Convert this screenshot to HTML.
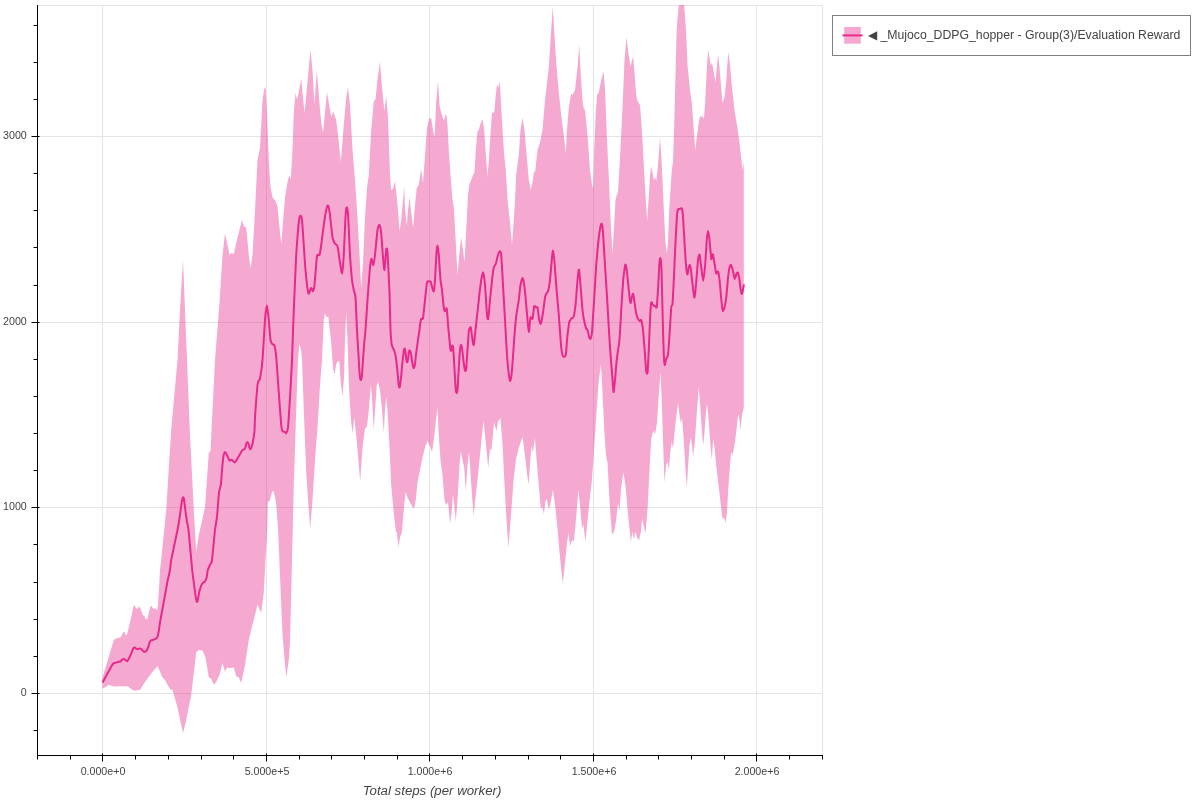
<!DOCTYPE html>
<html><head><meta charset="utf-8"><title>plot</title>
<style>
html,body{margin:0;padding:0;background:#fff;}
body{width:1200px;height:800px;position:relative;overflow:hidden;font-family:"Liberation Sans",sans-serif;color:#444;}
.xt,.yt,.xl,.lg{will-change:transform;}
.xt{position:absolute;width:100px;text-align:center;font-size:10.667px;line-height:13px;}
.yt{position:absolute;left:0;width:26.8px;text-align:right;font-size:10.667px;line-height:13px;}
.xl{position:absolute;left:282.3px;width:300px;text-align:center;top:783px;font-size:13.25px;line-height:15px;font-style:italic;}
.lg{position:absolute;left:868.3px;top:27px;font-size:12.27px;line-height:16px;white-space:nowrap;}
</style></head><body>
<svg width="1200" height="800" viewBox="0 0 1200 800" style="position:absolute;left:0;top:0">
<rect x="0" y="0" width="1200" height="800" fill="#fff"/>
<path d="M102.5 5.5V755.5M266.5 5.5V755.5M429.5 5.5V755.5M593.5 5.5V755.5M756.5 5.5V755.5M37.5 693.5H822.5M37.5 507.5H822.5M37.5 322.5H822.5M37.5 136.5H822.5" stroke="#e5e5e5" stroke-width="1" fill="none"/>
<path d="M37.5 5.5H822.5V755.5" stroke="#e5e5e5" stroke-width="1" fill="none"/>
<clipPath id="c"><rect x="37.0" y="5.0" width="786.0" height="751.0"/></clipPath>
<polygon clip-path="url(#c)" points="102.5,677.5 113.8,640.0 115.6,638.8 117.5,638.0 118.8,637.4 120.0,638.1 121.9,635.0 123.1,632.5 124.4,631.7 125.6,634.4 126.5,636.0 128.1,630.0 131.2,617.5 133.1,607.5 134.4,604.9 135.6,607.5 136.9,609.0 138.1,607.5 139.4,606.8 140.6,608.8 141.9,612.5 143.1,615.6 144.4,615.6 145.6,618.8 147.2,619.6 148.1,616.2 149.4,610.0 150.6,606.2 151.5,605.9 152.5,607.5 153.8,609.2 155.0,607.9 156.2,609.4 157.2,609.9 157.9,605.0 159.0,588.8 160.0,570.0 161.2,560.0 166.2,510.0 171.2,430.0 177.5,360.0 180.0,310.0 183.0,260.0 185.0,310.0 187.0,360.0 190.0,435.0 193.8,510.0 196.2,551.7 198.8,535.0 205.0,507.5 208.8,452.5 210.5,451.2 212.5,410.0 215.0,360.0 219.5,302.5 222.5,255.0 225.0,233.4 227.5,245.0 229.5,254.8 231.2,252.9 233.8,253.9 237.5,237.5 242.0,220.1 243.8,226.2 246.2,227.5 248.8,255.0 250.5,268.8 252.5,255.0 255.0,210.0 257.5,160.0 260.0,147.5 262.5,100.0 264.2,88.8 265.5,87.1 267.0,112.5 268.8,160.0 270.5,187.0 272.5,197.5 275.0,200.0 277.5,206.2 279.5,227.5 281.2,243.9 283.0,222.5 285.0,197.0 287.5,182.0 289.2,175.3 290.8,179.2 292.5,150.0 293.8,112.5 295.5,92.7 297.0,99.4 298.8,92.5 301.2,78.2 302.5,92.5 304.5,113.0 307.0,87.5 310.5,49.9 312.5,70.0 314.5,104.7 316.8,70.2 318.8,95.0 321.2,122.5 323.0,133.1 325.0,112.5 327.0,92.5 328.8,102.5 331.2,116.8 333.2,111.6 336.2,120.0 338.0,135.0 340.8,161.9 343.8,125.0 346.2,97.5 348.0,87.0 350.0,105.0 352.5,150.0 355.0,180.0 357.5,217.5 359.5,255.0 361.2,287.9 363.0,262.5 365.0,217.5 367.0,187.5 368.8,175.0 371.2,130.0 373.8,101.2 375.5,99.5 378.0,75.0 380.0,61.7 382.0,87.5 384.5,111.5 386.2,95.8 388.0,117.5 390.0,175.0 391.2,190.3 393.0,188.8 395.0,181.0 396.8,197.5 398.0,210.0 399.5,231.6 401.2,220.0 403.0,200.0 404.2,186.8 405.0,207.5 406.8,225.7 408.0,210.0 409.5,197.2 411.2,212.5 413.2,228.0 415.0,205.0 416.8,187.5 418.8,185.0 421.2,168.8 423.0,182.9 425.0,155.0 427.0,127.5 429.2,118.8 431.2,117.9 433.0,130.0 434.5,137.7 436.2,102.0 438.0,81.1 439.5,105.0 441.2,112.5 443.8,120.6 445.0,116.2 446.2,114.0 447.5,125.0 448.8,150.0 450.5,175.0 452.5,200.0 453.8,207.0 455.8,242.5 457.5,275.0 459.2,255.0 461.2,237.4 463.0,250.0 464.5,262.5 466.2,230.0 468.0,195.0 469.5,183.8 471.2,180.0 473.0,175.0 474.5,172.5 475.8,150.0 477.5,131.2 478.8,130.0 480.5,123.8 482.5,118.9 484.2,130.0 485.5,150.0 487.5,177.3 489.2,155.0 490.8,130.0 492.0,112.5 494.2,112.5 495.8,95.0 497.0,84.3 498.2,88.0 499.8,81.3 500.8,100.0 502.5,130.0 504.2,155.0 505.8,170.0 507.5,200.0 510.0,222.5 512.0,244.7 513.8,220.0 515.0,200.0 516.2,175.0 518.8,155.0 520.5,130.0 522.5,117.7 524.5,130.0 526.2,150.0 528.8,180.0 530.8,190.1 532.5,182.5 534.2,170.6 535.0,173.2 537.5,150.0 540.0,142.5 542.5,130.0 545.0,100.0 548.8,67.5 551.2,30.0 552.8,5.9 554.2,30.0 556.2,62.5 558.8,92.5 561.2,115.0 563.8,135.0 565.8,153.4 567.0,130.0 568.8,107.5 571.2,93.4 572.5,95.3 575.0,90.0 577.5,67.5 579.2,44.2 580.8,75.0 582.5,100.0 583.8,108.8 585.0,110.0 587.5,135.0 590.0,170.0 592.5,188.5 593.2,185.0 594.2,150.0 595.8,112.5 597.0,95.0 598.8,92.5 601.2,80.0 603.5,71.0 605.0,88.0 606.8,135.0 608.8,177.0 610.5,217.5 612.5,254.2 613.8,230.0 615.5,200.0 617.0,194.0 618.0,192.5 620.0,158.0 622.5,108.0 624.5,60.0 626.5,37.0 628.0,50.0 630.5,67.2 632.0,60.0 633.2,56.7 634.5,72.5 636.2,95.0 637.5,101.2 640.0,105.0 641.2,120.0 643.0,150.0 645.0,187.5 646.2,205.0 647.2,221.7 648.2,205.0 649.5,185.0 650.0,175.0 651.2,166.5 652.5,172.5 653.8,180.0 655.0,177.1 656.2,181.3 658.0,165.0 660.0,137.6 661.2,155.0 662.5,180.0 663.8,210.0 665.5,242.5 666.8,254.1 668.0,242.5 669.2,210.0 670.5,190.0 671.8,170.0 673.0,162.5 674.2,125.0 675.8,62.5 676.6,30.0 677.8,15.0 678.9,5.0 681.5,-4.6 684.1,5.0 684.9,15.0 686.0,30.0 687.5,65.0 690.0,90.0 692.0,105.0 693.8,130.0 695.2,150.6 697.0,135.0 698.8,122.5 700.0,115.3 701.2,117.8 702.5,115.4 703.8,119.6 705.0,105.0 707.0,65.0 708.2,49.8 709.5,57.5 710.8,65.5 712.0,62.5 713.8,72.5 715.5,82.6 717.0,65.0 718.2,54.6 719.5,67.5 721.2,87.5 722.5,102.8 724.5,97.5 726.2,82.5 727.5,62.5 728.5,52.1 730.0,65.0 732.0,87.5 734.5,110.0 737.0,125.0 739.5,142.5 741.2,157.5 742.5,170.2 743.8,161.2 743.8,407.5 742.0,415.0 740.5,430.6 739.5,420.0 738.2,413.9 736.2,432.5 734.5,445.0 732.5,455.6 731.2,451.8 730.0,465.0 728.2,490.0 727.0,512.5 725.5,522.7 723.8,517.2 722.5,519.1 720.8,505.0 718.8,487.5 716.2,465.0 714.5,447.5 713.2,438.4 711.8,459.6 710.0,440.0 708.2,415.0 707.0,403.4 705.8,415.0 704.5,432.5 703.2,445.6 702.0,432.5 700.5,410.0 698.8,386.4 697.0,410.0 695.0,440.0 693.2,456.6 692.0,445.0 690.8,437.7 689.5,445.0 688.2,465.0 686.8,487.5 685.5,470.0 683.8,440.0 682.0,417.7 680.8,423.3 679.5,415.0 678.0,403.2 676.8,412.5 675.0,427.5 673.0,448.7 671.8,441.5 670.5,450.0 668.8,470.1 667.5,461.9 666.2,465.0 664.5,482.6 663.0,440.0 661.8,402.5 660.5,372.0 658.8,395.0 657.0,422.5 655.0,434.2 653.2,430.8 651.2,438.8 649.5,470.0 647.5,510.0 645.5,533.6 643.8,526.2 642.0,518.9 641.1,531.0 639.0,540.4 636.9,537.0 635.4,531.8 633.9,539.3 632.4,531.6 630.9,542.3 629.4,528.0 627.6,510.0 625.5,486.0 623.4,472.2 621.0,489.0 619.5,511.3 618.0,502.9 615.9,522.0 614.1,531.6 612.0,534.4 610.5,516.0 609.0,492.0 607.5,462.0 606.0,456.0 604.5,435.0 602.4,390.0 600.9,364.0 598.5,384.0 596.4,414.0 594.0,450.0 591.9,480.0 589.5,501.0 587.4,522.0 585.3,542.3 583.5,524.3 582.0,528.7 580.5,510.0 578.4,490.1 576.0,519.0 573.9,541.8 572.1,539.8 570.0,546.2 568.5,532.7 567.0,543.0 564.9,564.0 562.8,583.6 561.6,573.0 559.5,552.0 557.4,528.0 555.0,504.0 552.9,489.4 550.5,504.0 548.4,509.1 546.9,499.1 545.4,501.0 543.9,514.1 542.4,506.7 540.9,508.9 539.1,489.0 537.0,465.0 534.9,438.0 532.8,452.4 531.6,445.8 530.4,459.0 528.6,484.7 527.1,474.0 525.0,456.0 522.6,436.7 519.0,447.0 516.0,459.0 513.6,480.0 510.9,516.0 508.5,547.7 507.0,528.0 504.6,486.0 502.5,444.0 500.4,418.0 498.0,421.5 496.5,431.3 494.1,422.1 491.4,450.3 490.0,448.7 488.2,468.1 487.0,455.0 485.0,435.0 483.5,420.8 482.0,435.0 480.0,455.0 477.5,480.0 475.0,502.5 473.5,515.6 472.0,495.0 470.5,472.5 469.0,451.9 467.5,465.0 465.8,491.5 464.2,467.5 462.5,460.0 460.8,451.3 459.5,465.0 457.5,500.0 455.8,521.6 454.5,507.5 453.0,494.5 451.8,510.0 450.2,523.6 448.0,502.0 446.2,505.4 444.5,500.0 442.5,475.0 440.5,460.0 438.8,435.0 437.5,407.3 435.8,422.5 433.8,440.0 432.0,452.0 430.0,446.2 428.8,443.8 427.5,440.8 425.0,447.5 422.5,457.5 420.0,470.0 417.5,482.5 415.8,500.0 414.2,508.2 412.5,507.0 410.0,502.5 407.5,497.5 405.5,491.7 403.8,510.0 401.8,532.5 400.0,537.5 398.5,547.0 396.8,532.5 395.8,531.2 394.5,520.0 393.0,505.0 391.2,485.0 389.5,447.5 387.5,410.0 386.2,396.9 385.0,410.0 383.8,432.6 382.0,410.0 380.0,390.0 378.0,382.0 376.8,385.0 375.0,410.0 373.8,430.0 372.0,397.5 370.8,385.6 368.8,410.0 367.0,426.2 365.0,428.8 362.5,447.5 360.2,481.8 358.8,465.0 356.2,435.0 354.2,417.2 352.5,433.5 351.2,422.5 349.5,397.5 348.8,380.0 347.5,340.0 346.2,312.0 345.0,340.0 344.0,377.5 342.5,396.2 340.5,380.0 339.5,362.0 338.0,360.8 336.2,364.0 334.5,374.4 333.0,368.0 331.2,342.5 328.2,315.9 326.8,317.7 325.0,313.2 323.8,320.0 322.0,360.0 320.0,385.0 317.5,427.5 315.0,460.0 312.5,500.0 310.2,528.4 308.8,510.0 306.2,472.5 303.8,410.0 302.0,360.0 301.2,350.0 299.2,344.2 298.0,360.0 296.2,410.0 293.8,485.0 292.0,560.0 290.0,642.5 288.8,660.0 286.2,677.8 282.5,635.0 278.1,530.0 276.5,507.5 275.2,497.5 274.0,493.1 272.9,490.6 271.9,492.5 270.6,497.5 269.4,501.2 267.8,501.9 267.2,530.0 265.5,560.0 263.8,592.5 261.2,613.1 257.5,604.5 255.0,615.0 251.2,630.0 248.8,640.0 245.0,665.0 241.2,683.0 238.8,677.5 236.2,676.2 233.8,667.5 230.0,668.0 227.0,667.4 225.0,671.7 222.5,663.1 219.5,675.0 215.8,682.5 213.8,684.8 211.2,678.8 208.8,677.5 205.5,657.5 202.5,650.5 198.8,650.0 196.2,652.5 191.2,695.0 186.2,720.0 183.0,733.3 177.5,707.5 172.5,690.0 170.0,689.2 165.0,680.0 162.5,677.5 157.5,666.0 150.0,675.0 143.8,683.8 140.0,690.0 133.8,690.8 127.5,686.2 113.8,686.5 108.8,684.9 102.5,688.8" fill="#e7298a" fill-opacity="0.4"/>
<path clip-path="url(#c)" d="M102.5 682.5C103.2 681.2 108.5 671.7 109.4 670.0C110.3 668.3 111.5 666.3 111.9 665.6C112.3 664.9 113.4 663.4 113.8 663.1C114.1 662.8 115.2 662.8 115.6 662.8C116.0 662.7 117.2 662.4 117.5 662.2C117.8 662.1 118.5 661.5 118.8 661.5C119.0 661.5 119.7 662.0 120.0 661.9C120.3 661.8 121.6 660.3 121.9 660.0C122.2 659.7 123.2 659.0 123.5 659.0C123.8 659.0 124.7 659.4 125.0 659.6C125.3 659.8 126.6 661.2 126.9 661.2C127.2 661.3 127.8 660.5 128.1 660.0C128.4 659.5 129.6 657.1 130.0 656.2C130.4 655.4 131.6 652.7 131.9 651.9C132.2 651.1 133.2 648.5 133.5 648.1C133.8 647.7 134.5 647.4 134.8 647.5C135.0 647.6 135.9 648.6 136.2 648.8C136.6 648.9 137.7 649.0 138.1 649.0C138.5 649.0 139.7 648.4 140.0 648.4C140.3 648.4 140.9 648.5 141.2 648.8C141.6 649.0 142.8 650.9 143.1 651.2C143.4 651.6 144.4 652.0 144.8 651.9C145.1 651.8 146.2 651.0 146.5 650.6C146.8 650.2 147.8 648.2 148.1 647.5C148.4 646.8 149.2 643.8 149.4 643.1C149.7 642.4 150.3 640.9 150.6 640.6C150.9 640.3 152.1 640.1 152.5 640.0C152.9 639.9 154.0 639.5 154.4 639.4C154.8 639.2 155.9 638.8 156.2 638.5C156.6 638.2 157.3 637.5 157.5 636.9C157.7 636.3 158.2 633.9 158.5 632.5C158.8 631.1 159.6 624.9 160.0 622.5C160.4 620.1 162.0 611.5 162.5 608.8C163.0 606.0 164.5 597.8 165.0 595.0C165.5 592.2 167.0 583.8 167.5 581.2C168.0 578.8 169.6 572.1 170.0 570.0C170.4 567.9 170.5 564.0 171.2 560.0C172.0 556.0 176.6 534.5 177.5 530.0C178.4 525.5 179.6 517.9 180.0 515.0C180.4 512.1 181.6 503.0 181.9 501.2C182.2 499.5 182.7 497.8 182.9 497.5C183.1 497.2 183.5 497.1 183.8 498.1C184.0 499.1 184.7 505.2 185.0 507.5C185.3 509.8 186.6 519.0 186.9 521.2C187.2 523.5 188.0 525.1 188.5 530.0C189.0 534.9 191.7 564.8 192.2 570.0C192.8 575.2 193.4 579.9 193.8 582.5C194.1 585.1 195.3 594.3 195.6 596.2C195.9 598.2 196.7 601.5 196.9 601.9C197.1 602.3 197.5 601.1 197.8 600.0C198.0 598.9 199.1 592.7 199.4 591.2C199.8 589.8 200.9 586.5 201.2 585.6C201.6 584.8 202.7 583.2 203.1 582.8C203.5 582.3 204.7 581.9 205.0 581.5C205.3 581.1 206.0 579.5 206.2 578.8C206.5 578.0 207.1 574.6 207.2 573.8C207.4 572.9 207.5 570.9 207.8 570.0C208.0 569.1 209.6 566.0 210.0 565.0C210.4 564.0 211.5 563.5 212.0 560.0C212.5 556.5 214.5 534.2 215.0 530.0C215.5 525.8 216.5 521.0 216.9 517.5C217.3 514.0 218.5 497.9 218.8 495.0C219.0 492.1 219.5 489.9 219.8 488.8C220.0 487.6 220.8 485.5 221.0 483.8C221.2 482.0 221.7 473.8 221.9 471.2C222.1 468.8 222.9 460.5 223.1 458.8C223.3 457.0 223.8 454.4 224.0 453.8C224.2 453.1 224.8 452.3 225.0 452.2C225.2 452.2 225.8 452.7 226.0 453.1C226.2 453.5 227.2 455.5 227.5 456.2C227.8 457.0 229.1 460.0 229.4 460.4C229.7 460.8 230.3 460.1 230.6 460.0C230.8 459.9 231.7 459.6 231.9 459.8C232.2 459.9 232.8 461.0 233.1 461.2C233.4 461.5 234.4 462.6 234.8 462.5C235.1 462.4 235.8 461.2 236.2 460.6C236.7 460.0 238.2 457.1 238.8 456.2C239.2 455.4 240.8 452.6 241.2 451.9C241.7 451.2 242.8 449.9 243.1 449.6C243.4 449.4 244.2 449.6 244.4 449.4C244.6 449.2 245.2 448.1 245.4 447.5C245.6 446.9 246.0 444.3 246.2 443.8C246.5 443.2 247.3 441.9 247.5 441.9C247.7 441.9 248.3 443.2 248.5 443.8C248.7 444.3 249.2 446.9 249.4 447.5C249.6 448.1 250.1 449.3 250.2 449.4C250.4 449.5 251.0 448.7 251.2 448.1C251.5 447.5 252.2 444.9 252.5 443.8C252.8 442.6 253.5 437.6 253.8 436.2C254.0 434.9 254.5 431.9 254.6 430.0C254.7 428.1 254.7 422.0 255.0 417.5C255.3 413.0 257.1 388.7 257.5 385.0C257.9 381.3 258.5 381.1 258.8 380.5C259.0 379.9 259.6 380.8 260.0 378.8C260.4 376.7 262.0 365.9 262.5 360.0C263.0 354.1 264.6 325.4 265.0 320.0C265.4 314.6 266.6 305.5 267.0 305.5C267.4 305.5 268.4 316.6 268.8 320.0C269.1 323.4 270.1 337.6 270.5 340.0C270.9 342.4 272.1 344.0 272.5 344.5C272.9 345.0 273.9 343.8 274.2 345.0C274.6 346.2 275.8 352.2 276.2 357.0C276.7 361.8 278.2 385.7 278.8 392.5C279.2 399.3 280.9 421.1 281.2 425.0C281.6 428.9 282.2 430.6 282.5 431.2C282.8 431.9 284.1 431.6 284.5 431.8C284.9 431.9 285.9 433.7 286.2 433.2C286.6 432.8 287.6 431.1 288.0 427.5C288.4 423.9 289.6 404.2 290.0 397.5C290.4 390.8 291.6 368.8 292.0 360.0C292.4 351.2 293.3 320.5 293.8 310.0C294.2 299.5 295.8 263.8 296.2 255.0C296.8 246.2 298.3 226.4 298.8 222.5C299.2 218.6 300.2 215.9 300.5 215.7C300.8 215.4 301.7 217.1 302.0 220.0C302.3 222.9 303.4 240.0 303.8 245.0C304.1 250.0 305.1 265.6 305.5 270.0C305.9 274.4 307.2 286.4 307.5 288.8C307.8 291.1 308.4 293.8 308.8 293.8C309.1 293.7 310.8 288.2 311.2 288.0C311.7 287.8 312.7 291.6 313.0 291.2C313.3 290.9 314.1 288.5 314.5 285.0C314.9 281.5 316.5 259.2 317.0 256.2C317.5 253.2 319.1 256.1 319.5 255.0C319.9 253.9 320.8 248.0 321.2 245.0C321.7 242.0 323.2 228.8 323.8 225.0C324.3 221.2 326.3 209.4 326.8 207.5C327.2 205.6 327.9 205.0 328.2 205.8C328.6 206.5 329.6 211.8 330.0 215.0C330.4 218.2 332.0 234.6 332.5 237.5C333.0 240.4 334.5 242.9 335.0 243.8C335.5 244.6 337.0 244.4 337.5 246.2C338.0 248.1 339.6 259.8 340.0 262.5C340.4 265.2 341.6 274.0 342.0 273.2C342.4 272.5 343.4 261.1 343.8 255.0C344.1 248.9 345.4 217.2 345.8 212.5C346.1 207.8 346.8 207.0 347.0 207.5C347.2 208.0 347.9 212.8 348.2 217.5C348.6 222.2 349.6 248.8 350.0 255.0C350.4 261.2 351.6 276.5 352.0 280.0C352.4 283.5 353.4 288.2 353.8 290.0C354.1 291.8 355.2 293.5 355.5 297.5C355.8 301.5 356.7 324.2 357.0 330.0C357.3 335.8 358.2 350.7 358.5 355.0C358.8 359.3 359.3 370.6 359.5 373.0C359.7 375.4 360.2 378.3 360.3 379.0C360.4 379.7 360.9 380.2 361.0 380.0C361.1 379.8 361.6 379.0 361.8 377.0C362.0 375.0 362.7 363.7 363.0 360.0C363.3 356.3 364.2 343.0 364.5 340.0C364.8 337.0 365.2 334.0 365.5 330.0C365.8 326.0 367.1 306.2 367.5 300.0C367.9 293.8 369.6 271.6 370.0 267.5C370.4 263.4 371.2 259.0 371.5 258.8C371.8 258.5 372.9 265.4 373.2 265.0C373.6 264.6 374.6 258.5 375.0 255.0C375.4 251.5 377.1 233.0 377.5 230.0C377.9 227.0 379.1 224.6 379.5 225.0C379.9 225.4 380.9 230.5 381.2 233.8C381.6 237.0 382.7 253.9 383.0 257.5C383.3 261.1 384.2 270.8 384.5 270.0C384.8 269.2 385.9 251.3 386.2 249.6C386.6 247.8 387.2 248.2 387.5 252.5C387.8 256.8 389.2 284.8 389.5 292.5C389.8 300.2 390.3 325.2 390.5 330.0C390.7 334.8 391.1 338.4 391.2 340.0C391.3 341.6 391.7 345.0 392.0 346.0C392.3 347.0 393.6 348.8 394.0 350.0C394.4 351.2 395.6 355.8 396.0 358.0C396.4 360.2 397.2 369.5 397.5 372.0C397.8 374.5 398.3 381.4 398.5 383.0C398.7 384.6 399.2 387.2 399.3 387.5C399.4 387.8 399.8 387.1 400.0 386.0C400.2 384.9 400.9 378.4 401.2 376.0C401.4 373.6 402.2 364.5 402.5 362.0C402.8 359.5 403.6 352.4 403.8 351.0C404.0 349.6 404.6 348.4 404.8 348.5C405.0 348.6 405.3 350.8 405.5 352.0C405.7 353.2 406.3 360.0 406.5 361.0C406.7 362.0 407.2 362.4 407.3 362.2C407.4 362.0 407.8 360.1 408.0 359.0C408.2 357.9 408.8 352.4 409.0 351.5C409.2 350.6 409.8 350.2 410.0 350.5C410.2 350.8 410.8 352.9 411.0 354.0C411.2 355.1 412.0 360.7 412.2 362.0C412.4 363.3 413.0 366.4 413.2 367.0C413.4 367.6 413.8 368.3 414.0 368.0C414.2 367.7 414.8 365.5 415.0 364.0C415.2 362.5 415.9 355.4 416.2 353.0C416.5 350.6 417.7 342.3 418.0 340.0C418.3 337.7 419.3 331.5 419.5 330.0C419.7 328.5 419.8 326.1 420.0 325.0C420.2 323.9 420.9 319.4 421.2 318.8C421.6 318.1 422.6 320.1 423.0 318.2C423.4 316.4 424.6 303.6 425.0 300.0C425.4 296.4 426.6 284.4 427.0 282.5C427.4 280.6 428.4 281.3 428.8 281.2C429.1 281.2 430.4 281.2 430.8 282.0C431.1 282.8 432.2 287.8 432.5 288.8C432.8 289.7 433.5 292.1 433.8 291.2C434.0 290.4 434.7 283.9 435.0 280.0C435.3 276.1 436.2 255.9 436.5 252.5C436.8 249.1 437.3 245.5 437.5 245.8C437.7 246.0 438.4 251.6 438.8 255.0C439.1 258.4 440.2 276.5 440.5 280.0C440.8 283.5 441.7 287.2 442.0 290.0C442.3 292.8 443.4 305.4 443.8 307.5C444.1 309.6 444.7 311.1 445.0 311.2C445.3 311.4 446.4 306.9 446.8 308.8C447.1 310.6 448.2 326.9 448.5 330.0C448.8 333.1 449.3 338.0 449.5 340.0C449.7 342.0 450.3 348.9 450.5 350.0C450.7 351.1 451.1 350.9 451.2 350.5C451.3 350.1 451.8 346.4 452.0 346.0C452.2 345.6 452.8 345.1 453.0 346.5C453.2 347.9 453.8 356.9 454.0 360.0C454.2 363.1 454.8 374.9 455.0 378.0C455.2 381.1 455.8 389.5 456.0 391.0C456.2 392.5 456.6 393.1 456.7 393.0C456.8 392.9 457.3 392.0 457.5 390.0C457.7 388.0 458.3 376.4 458.5 373.0C458.7 369.6 459.3 358.6 459.5 356.0C459.7 353.4 460.3 347.6 460.5 346.5C460.7 345.4 461.1 344.9 461.2 345.0C461.3 345.1 461.8 346.4 462.0 348.0C462.2 349.6 463.2 358.8 463.5 361.0C463.8 363.2 464.6 369.0 464.8 370.0C465.0 371.0 465.4 371.1 465.5 371.0C465.6 370.9 466.0 371.1 466.2 369.0C466.4 366.9 467.3 353.4 467.5 350.0C467.7 346.6 468.4 337.0 468.5 335.0C468.6 333.0 468.8 330.8 469.0 330.0C469.2 329.2 470.4 326.5 470.8 327.5C471.1 328.5 472.2 338.2 472.5 340.0C472.8 341.8 473.4 346.0 473.8 345.0C474.1 344.0 475.0 334.5 475.5 330.0C476.0 325.5 478.2 305.0 478.8 300.0C479.3 295.0 480.8 282.8 481.2 280.0C481.7 277.2 482.9 272.0 483.2 272.5C483.6 273.0 484.6 280.8 485.0 285.0C485.4 289.2 486.7 311.6 487.0 315.0C487.3 318.4 487.9 320.2 488.2 318.8C488.6 317.2 489.6 304.2 490.0 300.0C490.4 295.8 492.1 279.5 492.5 276.2C492.9 273.0 493.4 268.8 493.8 267.5C494.1 266.2 495.3 265.0 495.8 263.8C496.2 262.5 497.6 256.2 498.0 255.0C498.4 253.8 499.7 251.2 500.0 251.2C500.3 251.2 500.9 251.6 501.2 255.0C501.6 258.4 502.6 278.5 503.0 285.0C503.4 291.5 504.6 313.0 505.0 320.0C505.4 327.0 506.6 349.6 507.0 355.0C507.4 360.4 508.4 371.1 508.8 373.8C509.1 376.4 509.9 381.4 510.2 381.0C510.6 380.6 511.6 374.6 512.0 370.0C512.4 365.4 514.1 340.4 514.5 335.0C514.9 329.6 515.8 319.8 516.2 316.2C516.7 312.8 518.3 303.1 518.8 300.0C519.2 296.9 520.1 287.2 520.5 285.0C520.9 282.8 522.1 278.0 522.5 278.0C522.9 278.0 523.9 282.3 524.2 285.0C524.6 287.7 525.9 301.0 526.2 305.0C526.6 309.0 527.7 322.3 528.0 325.0C528.3 327.7 528.8 332.5 529.0 331.8C529.2 331.0 530.1 318.8 530.5 317.5C530.9 316.2 532.1 319.9 532.5 318.8C532.9 317.6 533.9 307.4 534.2 306.2C534.6 305.1 535.4 307.4 535.8 307.5C536.1 307.6 537.1 306.2 537.5 307.5C537.9 308.8 538.9 318.4 539.2 320.0C539.6 321.6 540.4 324.5 540.8 323.8C541.1 323.0 542.6 315.1 543.0 312.5C543.4 309.9 544.7 299.4 545.0 297.5C545.3 295.6 546.0 294.4 546.2 293.8C546.5 293.1 547.6 292.6 548.0 291.2C548.4 289.9 549.6 283.1 550.0 280.0C550.4 276.9 551.5 262.9 551.8 260.0C552.0 257.1 552.7 250.5 553.0 250.8C553.3 251.0 554.2 259.1 554.5 262.5C554.8 265.9 555.8 279.8 556.2 285.0C556.7 290.2 558.2 308.8 558.8 315.0C559.2 321.2 560.8 343.4 561.2 347.5C561.7 351.6 562.5 355.5 563.0 356.2C563.5 357.0 565.3 357.1 565.8 355.0C566.2 352.9 567.1 338.2 567.5 335.0C567.9 331.8 568.9 324.1 569.2 322.5C569.6 320.9 570.8 319.4 571.2 318.8C571.7 318.1 573.3 317.9 573.8 316.2C574.2 314.6 575.4 306.1 575.8 302.5C576.1 298.9 577.2 283.3 577.5 280.0C577.8 276.7 578.7 269.0 579.0 269.5C579.3 270.0 580.1 280.9 580.5 285.0C580.9 289.1 582.1 306.2 582.5 310.0C582.9 313.8 584.1 320.6 584.5 322.5C584.9 324.4 586.0 328.0 586.2 328.8C586.5 329.5 587.2 329.1 587.5 330.0C587.8 330.9 589.0 336.6 589.2 337.5C589.5 338.4 590.2 339.2 590.5 338.8C590.8 338.2 591.7 335.9 592.0 332.5C592.3 329.1 593.3 311.8 593.8 305.0C594.2 298.2 595.8 271.8 596.2 265.0C596.8 258.2 598.3 241.4 598.8 237.5C599.2 233.6 600.2 227.6 600.5 226.2C600.8 224.9 601.5 223.1 601.8 223.8C602.0 224.4 602.7 228.4 603.0 232.5C603.3 236.6 604.5 257.8 605.0 265.0C605.5 272.2 607.0 296.8 607.5 305.0C608.0 313.2 609.5 340.8 610.0 347.5C610.5 354.2 611.6 368.1 612.0 372.5C612.4 376.9 613.2 391.2 613.5 392.0C613.8 392.8 614.7 382.7 615.0 380.0C615.3 377.3 616.0 368.0 616.2 365.0C616.5 362.0 617.7 352.2 618.0 350.0C618.3 347.8 618.9 346.5 619.2 342.5C619.6 338.5 620.9 316.2 621.2 310.0C621.6 303.8 622.9 284.4 623.2 280.0C623.6 275.6 624.8 267.3 625.0 265.8C625.2 264.3 625.5 264.3 625.8 265.0C626.0 265.7 626.7 270.0 627.0 272.5C627.3 275.0 628.4 286.9 628.8 290.0C629.1 293.1 630.2 302.2 630.5 303.0C630.8 303.8 631.5 298.4 631.8 297.5C632.0 296.6 633.0 293.2 633.2 293.8C633.5 294.2 634.2 300.5 634.5 302.5C634.8 304.5 635.9 312.1 636.2 313.8C636.6 315.4 637.6 318.0 638.0 318.8C638.4 319.5 639.7 321.1 640.0 321.2C640.3 321.4 641.0 319.1 641.2 320.0C641.5 320.9 642.6 326.5 643.0 330.0C643.4 333.5 644.7 350.9 645.0 355.0C645.3 359.1 646.0 369.5 646.2 371.2C646.5 373.0 647.2 374.6 647.5 372.5C647.8 370.4 648.5 355.2 648.8 350.0C649.0 344.8 649.8 324.8 650.0 320.0C650.2 315.2 651.0 304.0 651.2 302.5C651.5 301.0 652.6 304.6 653.0 305.0C653.4 305.4 654.6 306.1 655.0 306.2C655.4 306.4 656.5 308.6 656.8 307.0C657.0 305.4 657.7 294.4 658.0 290.0C658.3 285.6 659.2 265.7 659.5 262.5C659.8 259.3 660.3 257.4 660.5 258.2C660.7 258.9 661.3 264.8 661.5 270.0C661.7 275.2 662.3 301.5 662.5 310.0C662.7 318.5 663.5 349.5 663.8 355.0C664.0 360.5 664.5 364.6 664.8 365.0C665.0 365.4 665.9 359.8 666.2 358.8C666.6 357.8 667.7 357.4 668.0 355.0C668.3 352.6 669.2 339.8 669.5 335.0C669.8 330.2 671.0 310.6 671.2 307.5C671.5 304.4 672.2 306.5 672.5 303.8C672.8 301.0 673.5 286.1 673.8 280.0C674.0 273.9 675.2 249.0 675.5 242.5C675.8 236.0 676.8 218.3 677.0 215.0C677.2 211.7 677.7 210.1 678.0 209.5C678.3 208.9 679.6 208.8 680.0 208.8C680.4 208.7 681.7 207.6 682.0 208.8C682.3 209.9 683.0 215.9 683.2 220.0C683.5 224.1 684.7 245.0 685.0 250.0C685.3 255.0 686.2 267.6 686.5 270.0C686.8 272.4 687.3 274.8 687.5 274.5C687.7 274.2 688.5 268.4 688.8 267.5C689.0 266.6 689.8 264.5 690.0 265.0C690.2 265.5 691.0 270.2 691.2 272.5C691.5 274.8 692.7 285.5 693.0 288.0C693.3 290.5 694.2 298.1 694.5 297.5C694.8 296.9 695.9 285.8 696.2 282.0C696.6 278.2 697.7 262.7 698.0 260.0C698.3 257.3 699.3 253.9 699.6 254.6C699.9 255.3 700.8 264.4 701.2 267.0C701.6 269.6 702.8 281.0 703.2 281.0C703.6 281.0 704.6 271.1 705.0 267.0C705.4 262.9 706.5 243.6 706.8 240.0C707.1 236.4 707.9 231.0 708.1 231.0C708.4 231.0 709.2 237.2 709.5 240.0C709.8 242.8 711.0 257.6 711.3 259.0C711.6 260.4 712.6 254.1 712.9 254.2C713.2 254.3 713.7 258.3 714.0 260.2C714.3 262.2 715.9 272.2 716.2 273.3C716.6 274.4 717.7 270.8 718.0 271.5C718.3 272.2 719.3 277.8 719.6 280.5C719.9 283.2 720.9 295.5 721.2 298.5C721.5 301.5 722.4 310.1 722.8 310.9C723.2 311.7 724.4 307.9 724.8 306.4C725.2 304.9 726.1 299.1 726.4 296.2C726.7 293.4 727.7 281.1 728.0 278.2C728.3 275.4 729.0 269.5 729.3 268.1C729.6 266.8 730.6 264.6 730.9 264.8C731.2 264.9 732.1 267.9 732.5 269.2C732.9 270.6 734.3 278.2 734.7 278.7C735.1 279.1 736.2 274.4 736.5 273.8C736.8 273.1 737.6 272.2 737.9 272.6C738.1 273.1 738.9 276.7 739.2 278.2C739.5 279.8 740.3 286.8 740.5 288.4C740.8 290.0 741.5 293.8 741.7 294.0C741.9 294.2 742.6 291.6 742.8 290.6C743.0 289.6 743.8 284.9 743.9 284.3" fill="none" stroke="#e7298a" stroke-width="2" stroke-linejoin="round" stroke-linecap="butt"/>
<path d="M37.5 5.0V756.0M37.0 755.5H823.0M37.5 755.5V759.5M70.5 755.5V759.5M102.5 753.5V761.5M135.5 755.5V759.5M168.5 755.5V759.5M201.5 755.5V759.5M233.5 755.5V759.5M266.5 753.5V761.5M299.5 755.5V759.5M331.5 755.5V759.5M364.5 755.5V759.5M397.5 755.5V759.5M429.5 753.5V761.5M462.5 755.5V759.5M495.5 755.5V759.5M528.5 755.5V759.5M560.5 755.5V759.5M593.5 753.5V761.5M626.5 755.5V759.5M658.5 755.5V759.5M691.5 755.5V759.5M724.5 755.5V759.5M756.5 753.5V761.5M789.5 755.5V759.5M822.5 755.5V759.5M33.5 730.5H37.5M31.5 693.5H39.5M33.5 656.5H37.5M33.5 619.5H37.5M33.5 582.5H37.5M33.5 544.5H37.5M31.5 507.5H39.5M33.5 470.5H37.5M33.5 433.5H37.5M33.5 396.5H37.5M33.5 359.5H37.5M31.5 322.5H39.5M33.5 285.5H37.5M33.5 247.5H37.5M33.5 210.5H37.5M33.5 173.5H37.5M31.5 136.5H39.5M33.5 99.5H37.5M33.5 62.5H37.5M33.5 25.5H37.5" stroke="#000" stroke-width="1" fill="none"/>
<rect x="832.5" y="15.5" width="358" height="40" fill="#fff" fill-opacity="0.95" stroke="#808080" stroke-width="1"/>
<rect x="844.2" y="27" width="16.6" height="16.7" fill="#e7298a" fill-opacity="0.4"/>
<path d="M842.5 35.4H862.5" stroke="#e7298a" stroke-width="2"/>
</svg>
<div class="xt" style="left:52.5px;top:765px">0.000e+0</div>
<div class="xt" style="left:216.5px;top:765px">5.000e+5</div>
<div class="xt" style="left:379.5px;top:765px">1.000e+6</div>
<div class="xt" style="left:543.5px;top:765px">1.500e+6</div>
<div class="xt" style="left:706.5px;top:765px">2.000e+6</div>
<div class="yt" style="top:686.0px">0</div>
<div class="yt" style="top:500.0px">1000</div>
<div class="yt" style="top:315.0px">2000</div>
<div class="yt" style="top:129.0px">3000</div>
<div class="xl">Total steps (per worker)</div>
<div class="lg">&#9664; _Mujoco_DDPG_hopper - Group(3)/Evaluation Reward</div>
</body></html>
